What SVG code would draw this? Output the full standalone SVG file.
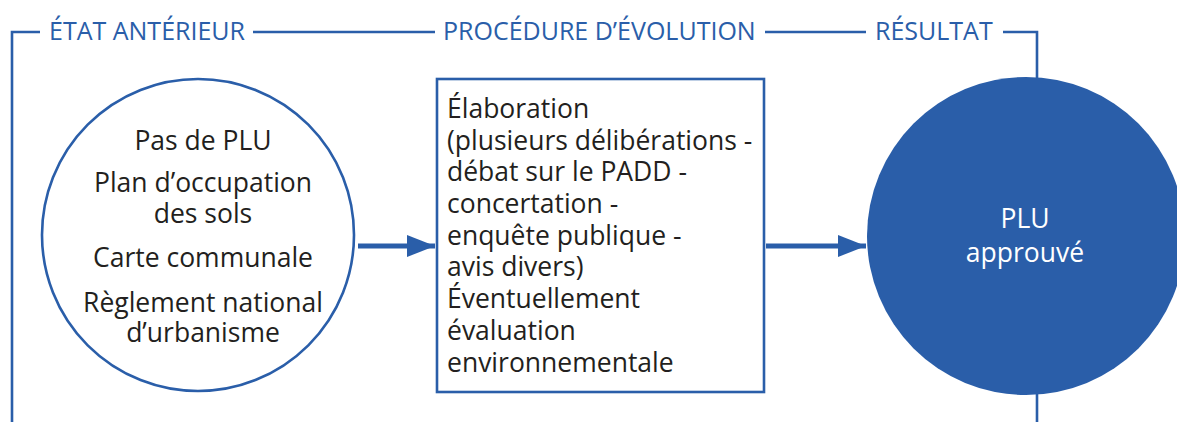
<svg xmlns="http://www.w3.org/2000/svg" width="1177" height="422" viewBox="0 0 1177 422">
  <style>
    .frame { fill: none; stroke: #2a5ea9; stroke-width: 2.6; }
    .head { font-family: "Open Sans", "Noto Sans", sans-serif; font-size: 25px; fill: #2a5ea9; }
    .body { font-family: "Open Sans", "Noto Sans", sans-serif; font-size: 26.5px; fill: #231f20; }
    .inv { font-family: "Open Sans", "Noto Sans", sans-serif; font-size: 26.5px; fill: #ffffff; }
    .link { fill: none; stroke: #2a5ea9; stroke-width: 5; }
  </style>
  <defs>
    <marker id="arrow" markerUnits="userSpaceOnUse" markerWidth="30" markerHeight="24" refX="28" refY="11" orient="auto">
      <path d="M0,0 L28,11 L0,22 Z" fill="#2a5ea9"/>
    </marker>
  </defs>
  <rect width="1177" height="422" fill="#ffffff"/>

  <!-- phase headers and bracket lines -->
  <g id="phases">
    <path class="frame" d="M12,422 V32 H40"/>
    <text class="head" x="49" y="40">ÉTAT ANTÉRIEUR</text>
    <path class="frame" d="M253,32 H435"/>
    <text class="head" x="443" y="40">PROCÉDURE D’ÉVOLUTION</text>
    <path class="frame" d="M765,32 H866"/>
    <text class="head" x="875" y="40">RÉSULTAT</text>
    <path class="frame" d="M1003,32 H1037 V80"/>
    <path class="frame" d="M1037,392 V422"/>
  </g>

  <!-- initial state -->
  <g id="etat-anterieur">
    <circle class="frame" cx="198" cy="235" r="156"/>
    <g class="body" text-anchor="middle">
      <text x="203" y="150">Pas de PLU</text>
      <text x="203" y="192">Plan d’occupation</text>
      <text x="203" y="223">des sols</text>
      <text x="203" y="267">Carte communale</text>
      <text x="203" y="312">Règlement national</text>
      <text x="203" y="342">d’urbanisme</text>
    </g>
  </g>

  <!-- procedure -->
  <g id="procedure">
    <rect class="frame" x="437" y="79" width="327" height="313"/>
    <g class="body">
      <text x="447" y="118">Élaboration</text>
      <text x="447" y="150">(plusieurs délibérations -</text>
      <text x="447" y="181">débat sur le PADD -</text>
      <text x="447" y="213">concertation -</text>
      <text x="447" y="245">enquête publique -</text>
      <text x="447" y="276">avis divers)</text>
      <text x="447" y="308">Éventuellement</text>
      <text x="447" y="340">évaluation</text>
      <text x="447" y="372">environnementale</text>
    </g>
  </g>

  <!-- result -->
  <g id="resultat">
    <circle cx="1026" cy="236" r="159" fill="#2a5ea9"/>
    <g class="inv" text-anchor="middle">
      <text x="1025" y="228">PLU</text>
      <text x="1025" y="262">approuvé</text>
    </g>
  </g>

  <!-- connectors -->
  <g id="connectors">
    <line class="link" x1="358" y1="246" x2="435" y2="246" marker-end="url(#arrow)"/>
    <line class="link" x1="766" y1="246" x2="866" y2="246" marker-end="url(#arrow)"/>
  </g>
</svg>
